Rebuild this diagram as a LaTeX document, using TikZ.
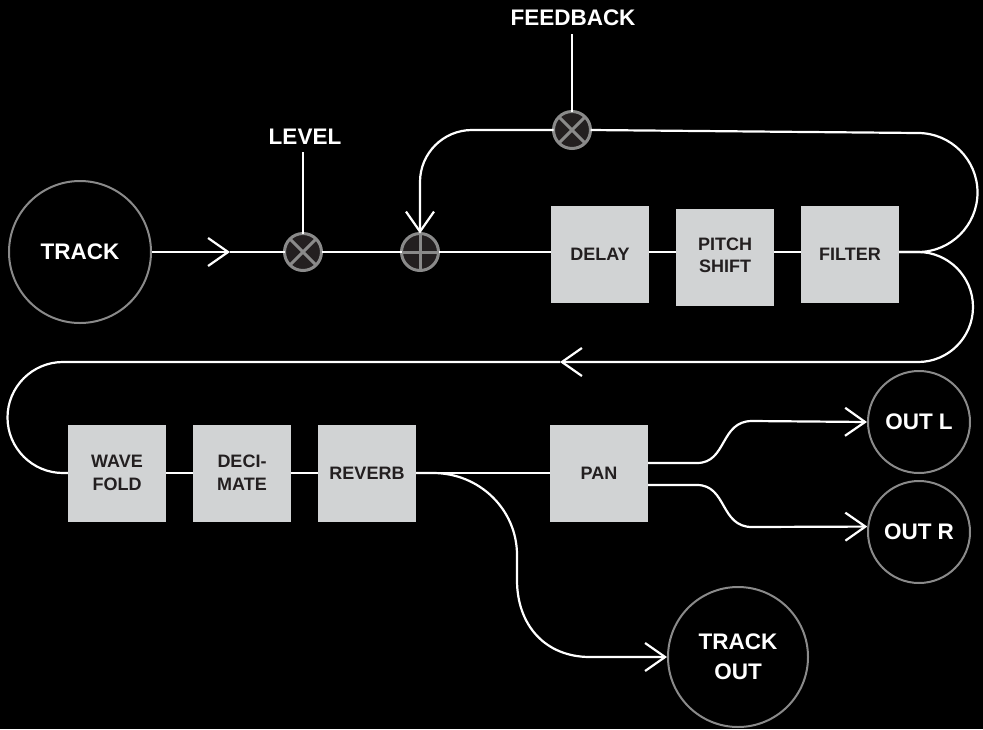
\documentclass[tikz,border=0pt]{standalone}
\usepackage{fontspec}
\setmainfont{Liberation Sans}
\usetikzlibrary{arrows.meta}
\definecolor{boxgray}{HTML}{D1D3D4}
\definecolor{ink}{HTML}{231F20}
\definecolor{rim}{HTML}{8A8A8A}
\begin{document}
\begin{tikzpicture}[x=1pt,y=-1pt,
  sig/.style={draw=white, line width=2.2pt},
  tip/.style={-{Straight Barb[length=20pt,width=28pt]}},
  endpt/.style={circle, draw=rim, line width=2pt, inner sep=0pt, text=white,
    font=\fontsize{22.5}{30}\selectfont\bfseries, align=center},
  mult/.style={circle, draw=rim, fill=ink, line width=3pt, minimum size=37pt, inner sep=0pt, outer sep=0pt},
  glyph/.style={draw=rim, line width=3pt},
  block/.style={rectangle, fill=boxgray, minimum width=98pt, minimum height=97pt, inner sep=0pt,
    text=ink, font=\fontsize{18}{23}\selectfont\bfseries, align=center},
  lab/.style={text=white, font=\fontsize{22.5}{27}\selectfont\bfseries, inner sep=0pt}]
\fill[black] (0,0) rectangle (983,729);
\useasboundingbox (0,0) rectangle (983,729);

% nodes
\node[endpt, minimum size=142pt] (track) at (80,252) {TRACK};
\node[mult] (level) at (303,252) {};
\node[mult] (sum) at (420,252) {};
\node[mult] (fb) at (572,130) {};
\node[lab] (lvlab) at (305,137) {LEVEL};
\node[lab] (fblab) at (573,18) {FEEDBACK};
\node[block] (delay) at (600,254.5) {DELAY};
\node[block] (pitch) at (725,257) {\raisebox{4pt}{\begin{tabular}{@{}c@{}}PITCH\\[-1pt]SHIFT\end{tabular}}};
\node[block] (filter) at (850,254.5) {FILTER};
\node[block] (wave) at (117,473) {WAVE\\FOLD};
\node[block] (deci) at (242,473) {DECI-\\MATE};
\node[block] (reverb) at (367,473) {REVERB};
\node[block] (pan) at (599,473) {PAN};
\node[endpt, minimum size=102pt] (outL) at (919,422) {OUT L};
\node[endpt, minimum size=102pt] (outR) at (919,532) {OUT R};
\node[endpt, minimum size=140pt] (trackout) at (738,657) {TRACK\\OUT};

% glyphs
\draw[glyph] (level.45) -- (level.225) (level.135) -- (level.315);
\draw[glyph] (fb.45) -- (fb.225) (fb.135) -- (fb.315);
\draw[glyph] (sum.north) -- (sum.south) (sum.east) -- (sum.west);

% free ends
\coordinate (a1) at (230,252);
\coordinate (ret) at (560,362);
\coordinate (lvtop) at (303,152);
\coordinate (fbtop) at (572,34);

% top row
\draw[sig,tip] (track.east) -- (a1);
\draw[sig] (a1) -- (level.west);
\draw[sig] (level.east) -- (sum.west);
\draw[sig] (sum.east) -- (sum.east -| delay.west);
\draw[sig] (delay.east |- sum) -- (pitch.west |- sum);
\draw[sig] (pitch.east |- sum) -- (filter.west |- sum);
\draw[sig] (lvtop) -- (level.north);
\draw[sig] (fbtop) -- (fb.north);

% feedback loop
\draw[sig] (filter.east |- sum) -- (918,252) arc[start angle=90,end angle=-90,radius=59.5] -- (fb.east);
\draw[sig,tip,rounded corners=52pt] (fb.west) -| (sum.north);

% return loop
\draw[sig,tip] (filter.east |- sum) -- (918,252) arc[start angle=-90,end angle=90,radius=55] -- (ret);
\draw[sig] (ret) -- (63,362) arc[start angle=-90,end angle=-270,radius=55.5] -- (wave.west);

% bottom row
\draw[sig] (wave.east) -- (deci.west);
\draw[sig] (deci.east) -- (reverb.west);
\draw[sig] (reverb.east) -- (pan.west);
\draw[sig,tip] (reverb.east) -- (433,473) .. controls (480,473) and (517,510) .. (517,555)
  -- (517,580) .. controls (517,625) and (545,657) .. (590,657) -- (trackout.west);

% pan outputs
\draw[sig,tip] ([yshift=10pt]pan.east) -- (697,463) .. controls (727,463) and (720,421) .. (752,421) -- (outL.west);
\draw[sig,tip] ([yshift=-12pt]pan.east) -- (697,485) .. controls (727,485) and (720,527) .. (752,527) -- (outR.174);
\end{tikzpicture}
\end{document}
